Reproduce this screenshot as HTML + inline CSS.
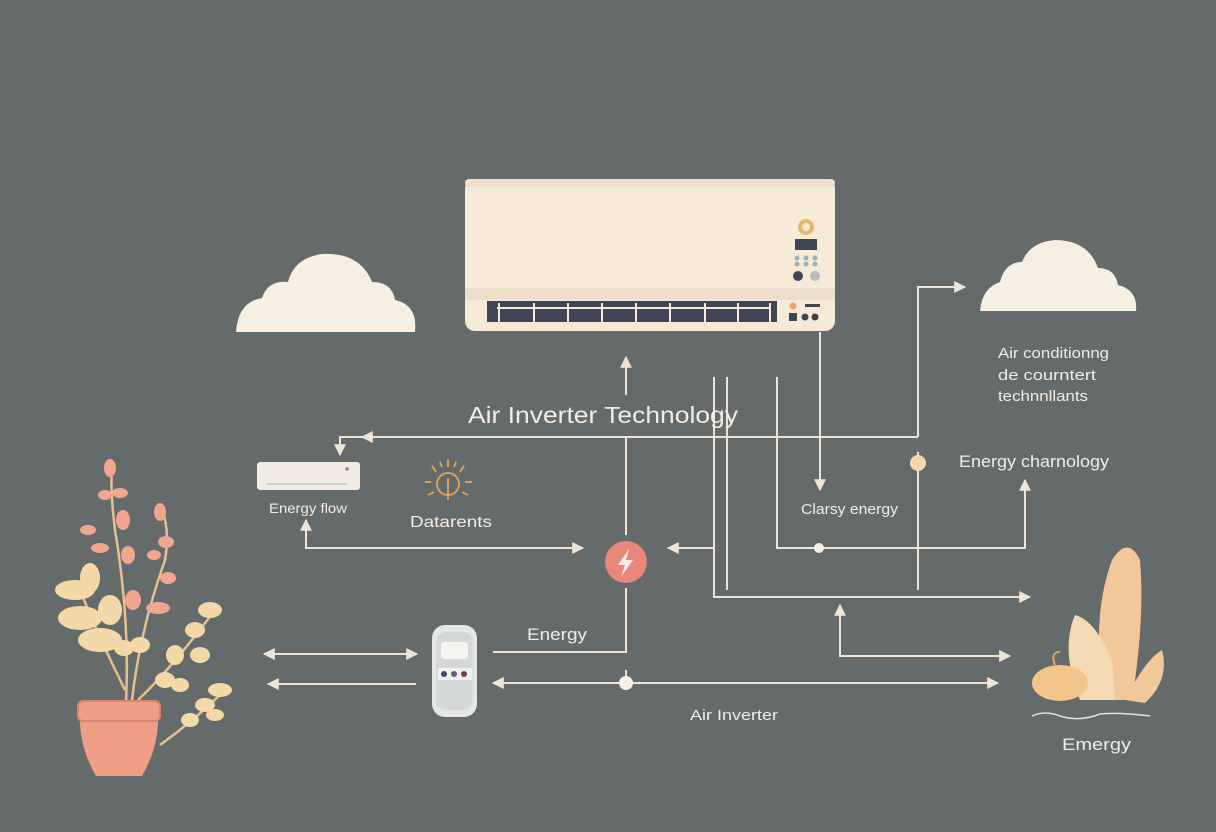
<!DOCTYPE html>
<html><head><meta charset="utf-8"><style>
html,body{margin:0;padding:0;background:#656a6b;}
svg{display:block;}
text{font-family:"Liberation Sans","DejaVu Sans",sans-serif;fill:#f3ede4;}
</style></head><body>
<svg width="1216" height="832" viewBox="0 0 1216 832" xmlns="http://www.w3.org/2000/svg">
<defs>
<marker id="a" viewBox="0 0 10 10" refX="9" refY="5" markerWidth="6" markerHeight="6" orient="auto-start-reverse"><path d="M0,0 L10,5 L0,10 z" fill="#efe5d6"/></marker>
</defs>
<rect width="1216" height="832" fill="#656a6b"/>

<!-- clouds -->
<g fill="#f7efe2">
<path d="M236,332 L415,332 Q418,305 395,300 Q392,282 372,282 Q360,252 322,254 Q294,258 288,282 Q268,280 262,298 Q238,302 236,332 z"/>
<path d="M980,311 L1136,311 Q1138,290 1118,285 Q1115,268 1098,268 Q1088,240 1055,240 Q1030,242 1022,262 Q1005,262 1000,282 Q982,288 980,311 z"/>
</g>

<!-- main AC unit -->
<rect x="465" y="179" width="370" height="152" rx="10" fill="#f7ebd8"/>
<rect x="465" y="179" width="370" height="8" rx="4" fill="#efe2cd"/>
<rect x="465" y="288" width="370" height="12" fill="#ebdfca"/>
<rect x="487" y="301" width="290" height="21" fill="#3f4555"/>
<g stroke="#f7ebd8" stroke-width="2"><line x1="497" y1="308" x2="770" y2="308"/>
<line x1="534" y1="303" x2="534" y2="322"/><line x1="568" y1="303" x2="568" y2="322"/><line x1="602" y1="303" x2="602" y2="322"/><line x1="636" y1="303" x2="636" y2="322"/><line x1="670" y1="303" x2="670" y2="322"/><line x1="705" y1="303" x2="705" y2="322"/><line x1="738" y1="303" x2="738" y2="322"/><line x1="499" y1="303" x2="499" y2="322"/><line x1="770" y1="303" x2="770" y2="322"/></g>
<circle cx="806" cy="227" r="8" fill="#e0b870"/><circle cx="806" cy="227" r="4" fill="#f3e8c8"/>
<rect x="795" y="239" width="22" height="11" fill="#3f4555"/>
<g fill="#9bb0bb"><circle cx="797" cy="258" r="2.5"/><circle cx="806" cy="258" r="2.5"/><circle cx="815" cy="258" r="2.5"/><circle cx="797" cy="264" r="2.5"/><circle cx="806" cy="264" r="2.5"/><circle cx="815" cy="264" r="2.5"/></g>
<circle cx="798" cy="276" r="5" fill="#3f4555"/><circle cx="815" cy="276" r="5" fill="#b8bcbf"/>
<circle cx="793" cy="306" r="3.5" fill="#f0a070"/><rect x="805" y="304" width="15" height="3" fill="#3f4555"/>
<rect x="789" y="313" width="8" height="8" fill="#3f4555"/><circle cx="805" cy="317" r="3.5" fill="#3f4555"/><circle cx="815" cy="317" r="3.5" fill="#4a3a3a"/>

<!-- connectors -->
<g stroke="#efe5d6" stroke-width="2" fill="none">
<line x1="626" y1="395" x2="626" y2="357" marker-end="url(#a)"/>
<polyline points="918,437 340,437 340,455" marker-end="url(#a)"/>
<line x1="400" y1="437" x2="362" y2="437" marker-end="url(#a)"/>
<polyline points="918,437 918,287 965,287" marker-end="url(#a)"/>
<line x1="626" y1="437" x2="626" y2="535"/>
<polyline points="626,588 626,652 493,652"/>
<polyline points="714,377 714,597 1030,597" marker-end="url(#a)"/>
<line x1="727" y1="377" x2="727" y2="590"/>
<line x1="714" y1="548" x2="668" y2="548" marker-end="url(#a)"/>
<polyline points="777,377 777,548 1025,548 1025,480" marker-end="url(#a)"/>
<line x1="820" y1="332" x2="820" y2="490" marker-end="url(#a)"/>
<line x1="918" y1="452" x2="918" y2="590"/>
<polyline points="840,605 840,656 1010,656" marker-end="url(#a)" marker-start="url(#a)"/>
<line x1="493" y1="683" x2="998" y2="683" marker-end="url(#a)" marker-start="url(#a)"/>
<line x1="626" y1="670" x2="626" y2="683"/>
<polyline points="583,548 306,548 306,520" marker-end="url(#a)" marker-start="url(#a)"/>
<line x1="264" y1="654" x2="417" y2="654" marker-end="url(#a)" marker-start="url(#a)"/>
<line x1="268" y1="684" x2="416" y2="684" marker-start="url(#a)"/>
</g>
<circle cx="819" cy="548" r="5" fill="#f3ede4"/>
<circle cx="626" cy="683" r="7" fill="#f7f1e6"/>
<circle cx="918" cy="463" r="8" fill="#f5d9ae"/>

<!-- lightning -->
<circle cx="626" cy="562" r="21" fill="#e8877a"/>
<path d="M629,549 L618,565 L625,565 L621,577 L633,560 L626,560 z" fill="#fbeee8"/>

<!-- small ac -->
<rect x="257" y="462" width="103" height="28" rx="3" fill="#f3ede4"/>
<rect x="267" y="483" width="80" height="2" fill="#d4d0ca"/>
<circle cx="347" cy="469" r="2" fill="#999"/>

<!-- sun icon -->
<g stroke="#e6a55a" stroke-width="1.8" fill="none">
<circle cx="448" cy="484" r="11"/>
<line x1="448" y1="478" x2="448" y2="500"/>
<line x1="448" y1="460" x2="448" y2="467"/><line x1="432" y1="466" x2="436" y2="472"/><line x1="464" y1="466" x2="460" y2="472"/><line x1="425" y1="482" x2="431" y2="482"/><line x1="465" y1="482" x2="472" y2="482"/><line x1="428" y1="495" x2="434" y2="492"/><line x1="468" y1="495" x2="462" y2="492"/><line x1="440" y1="462" x2="442" y2="467"/><line x1="456" y1="462" x2="454" y2="467"/>
</g>

<!-- remote -->
<rect x="432" y="625" width="45" height="92" rx="13" fill="#e6e6e3"/>
<rect x="436" y="632" width="37" height="78" rx="10" fill="#d5d8d8"/>
<rect x="441" y="642" width="27" height="17" rx="3" fill="#f5f5f2"/>
<rect x="438" y="668" width="34" height="12" fill="#f0f0ec"/>
<circle cx="444" cy="674" r="3" fill="#3f4a70"/><circle cx="454" cy="674" r="3" fill="#6a5a85"/><circle cx="464" cy="674" r="3" fill="#7a3a4a"/>

<!-- plant -->
<g stroke="#e8c190" stroke-width="2.5" fill="none">
<path d="M126,702 Q130,620 115,530 Q110,490 112,466"/>
<path d="M132,700 Q140,630 165,560 Q170,530 162,510"/>
<path d="M125,690 Q100,640 80,590"/>
<path d="M138,700 Q170,670 215,610"/>
<path d="M160,745 Q195,720 225,690"/>
</g>
<g fill="#efa790">
<ellipse cx="110" cy="468" rx="6" ry="9"/><ellipse cx="120" cy="493" rx="8" ry="5"/><ellipse cx="105" cy="495" rx="7" ry="5"/>
<ellipse cx="123" cy="520" rx="7" ry="10"/><ellipse cx="88" cy="530" rx="8" ry="5"/><ellipse cx="100" cy="548" rx="9" ry="5"/><ellipse cx="128" cy="555" rx="7" ry="9"/>
<ellipse cx="160" cy="512" rx="6" ry="9"/><ellipse cx="166" cy="542" rx="8" ry="6"/><ellipse cx="154" cy="555" rx="7" ry="5"/><ellipse cx="168" cy="578" rx="8" ry="6"/>
<ellipse cx="133" cy="600" rx="8" ry="10"/><ellipse cx="158" cy="608" rx="12" ry="6"/>
</g>
<g fill="#f3d8a8">
<ellipse cx="75" cy="590" rx="20" ry="10"/><ellipse cx="80" cy="618" rx="22" ry="12"/><ellipse cx="100" cy="640" rx="22" ry="12"/><ellipse cx="90" cy="578" rx="10" ry="15"/><ellipse cx="110" cy="610" rx="12" ry="15"/>
<ellipse cx="124" cy="648" rx="10" ry="8"/><ellipse cx="140" cy="645" rx="10" ry="8"/>
<ellipse cx="210" cy="610" rx="12" ry="8"/><ellipse cx="195" cy="630" rx="10" ry="8"/><ellipse cx="175" cy="655" rx="9" ry="10"/><ellipse cx="200" cy="655" rx="10" ry="8"/><ellipse cx="165" cy="680" rx="10" ry="8"/><ellipse cx="180" cy="685" rx="9" ry="7"/>
<ellipse cx="220" cy="690" rx="12" ry="7"/><ellipse cx="205" cy="705" rx="10" ry="7"/><ellipse cx="190" cy="720" rx="9" ry="7"/><ellipse cx="215" cy="715" rx="9" ry="6"/>
</g>
<path d="M80,710 L158,710 Q160,745 142,776 L96,776 Q78,745 80,710 z" fill="#ee9f86"/>
<rect x="78" y="701" width="82" height="20" rx="5" fill="#ee9f86" stroke="#d88670" stroke-width="2"/>

<!-- right rocks/leaves -->
<path d="M1105,700 Q1090,620 1112,560 Q1128,535 1140,560 Q1145,620 1132,700 z" fill="#f2c89a"/>
<path d="M1080,700 Q1060,650 1075,615 Q1095,620 1112,660 L1115,700 z" fill="#f3dab5"/>
<path d="M1125,700 Q1145,660 1162,650 Q1170,680 1145,703 z" fill="#f2c89a"/>
<ellipse cx="1060" cy="683" rx="28" ry="18" fill="#f2c48a"/>
<path d="M1055,665 Q1050,652 1060,652" stroke="#e0a86a" stroke-width="2" fill="none"/>
<path d="M1032,716 Q1045,710 1060,716 Q1080,722 1100,714 Q1120,712 1150,716" stroke="#e8e0d4" stroke-width="1.5" fill="none"/>

<!-- labels -->
<text x="468" y="423" font-size="23" textLength="270" lengthAdjust="spacingAndGlyphs">Air Inverter Technology</text>
<text x="269" y="513" font-size="14" textLength="78" lengthAdjust="spacingAndGlyphs">Energy flow</text>
<text x="410" y="527" font-size="16" textLength="82" lengthAdjust="spacingAndGlyphs">Datarents</text>
<text x="527" y="640" font-size="17" textLength="60" lengthAdjust="spacingAndGlyphs">Energy</text>
<text x="690" y="720" font-size="15" textLength="88" lengthAdjust="spacingAndGlyphs">Air Inverter</text>
<text x="801" y="514" font-size="15" textLength="97" lengthAdjust="spacingAndGlyphs">Clarsy energy</text>
<text x="959" y="467" font-size="17" textLength="150" lengthAdjust="spacingAndGlyphs">Energy charnology</text>
<text x="1062" y="750" font-size="17" textLength="69" lengthAdjust="spacingAndGlyphs">Emergy</text>
<text x="998" y="358" font-size="15" textLength="111" lengthAdjust="spacingAndGlyphs">Air conditionng</text>
<text x="998" y="380" font-size="15" textLength="98" lengthAdjust="spacingAndGlyphs">de courntert</text>
<text x="998" y="401" font-size="15" textLength="90" lengthAdjust="spacingAndGlyphs">technnllants</text>
</svg>
</body></html>
